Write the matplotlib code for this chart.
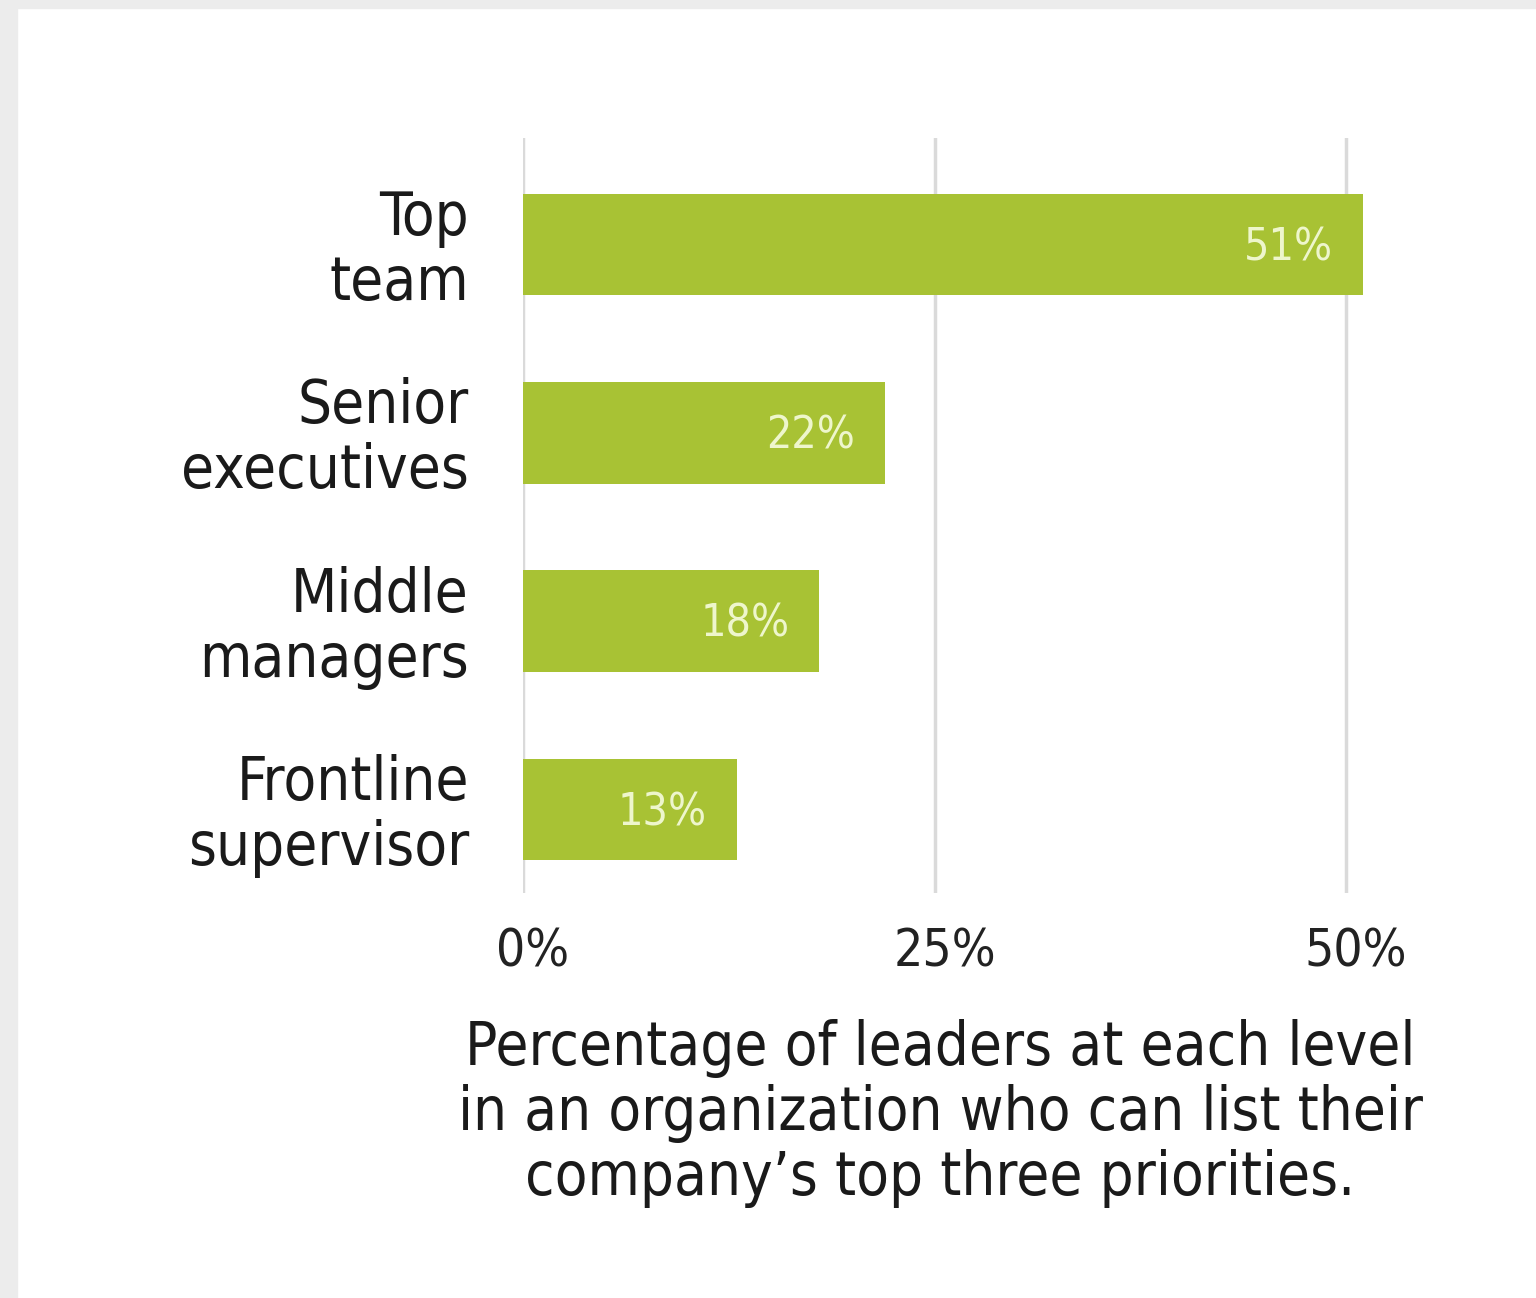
import matplotlib
matplotlib.use("Agg")
import matplotlib.pyplot as plt
import matplotlib.transforms as mtransforms
from matplotlib.patches import Rectangle

# data
categories = ["Top\nteam", "Senior\nexecutives", "Middle\nmanagers", "Frontline\nsupervisor"]
values = [51, 22, 18, 13]
xticks = [0, 25, 50]
xtick_labels = ["0%", "25%", "50%"]
caption = ("Percentage of leaders at each level\n"
           "in an organization who can list their\n"
           "company\u2019s top three priorities.")

bar_color = "#a8c234"
font = dict(family="DejaVu Sans", stretch="condensed")

fig = plt.figure(figsize=(15.36, 12.98), dpi=100)
fig.patch.set_facecolor("white")
# light grey frame on left and top edges
fig.add_artist(Rectangle((0, 0), 17 / 1536, 1, transform=fig.transFigure, color="#ececec", zorder=0))
fig.add_artist(Rectangle((0, 1 - 8 / 1298), 1, 8 / 1298, transform=fig.transFigure, color="#ececec", zorder=0))

ax = fig.add_axes([523 / 1536, 405 / 1298, 856 / 1536, 755 / 1298])
ypos = list(range(len(categories)))
ax.barh(ypos, values, height=0.54, color=bar_color, zorder=2)
ax.set_xlim(0, 52)
ax.set_ylim(3.443, -0.566)

ax.set_xticks(xticks)
ax.set_xticklabels(xtick_labels, fontsize=37, color="#222222", **font)
ax.set_yticks(ypos)
ax.set_yticklabels(categories, fontsize=43, color="#1a1a1a", linespacing=1.13, **font)
ax.tick_params(axis="x", length=0, pad=25)
ax.tick_params(axis="y", length=0, pad=39)
# tick labels sit a little right of their gridlines
shift = mtransforms.ScaledTranslation(10 / 100, 0, fig.dpi_scale_trans)
for lbl in ax.get_xticklabels():
    lbl.set_transform(lbl.get_transform() + shift)
shift_y = mtransforms.ScaledTranslation(0, 3 / 100, fig.dpi_scale_trans)
for lbl in ax.get_yticklabels():
    lbl.set_transform(lbl.get_transform() + shift_y)

ax.grid(axis="x", color="#dadada", linewidth=2.5, zorder=0)
ax.set_axisbelow(True)
for s in ax.spines.values():
    s.set_visible(False)

for y, v in zip(ypos, values):
    ax.annotate(f"{v}%", xy=(v, y), xytext=(-30, -3), textcoords="offset pixels",
                ha="right", va="center", fontsize=32, color="#eef6cc", zorder=3, **font)

fig.text(940 / 1536, 0.1425, caption, ha="center", va="center", multialignment="center",
         fontsize=43, color="#1a1a1a", linespacing=1.13, **font)

fig.savefig("out.png", dpi=100, facecolor="white")
